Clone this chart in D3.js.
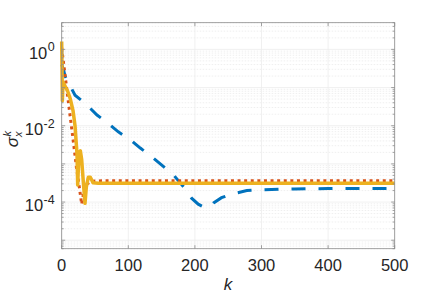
<!DOCTYPE html>
<html>
<head>
<meta charset="utf-8">
<script src="https://d3js.org/d3.v7.min.js"></script>
<style>
  body { margin: 0; background: #fff; }
  text { font-family: "Liberation Sans", Arial, sans-serif; fill: #262626; }
</style>
</head>
<body>
<div id="chart"></div>
<script>
// iterations k and sigma values
var blueK = [0, 3, 5, 20, 35, 53, 70, 85, 103, 118, 135, 153, 168, 183, 195, 205, 212, 222, 228, 240, 253, 278, 300, 350, 400, 500];
var blueV = [0.4, 0.28, 0.2, 0.063, 0.039, 0.019, 0.0115, 0.0069, 0.0043, 0.0026, 0.00155, 0.00085, 0.00051, 0.00025, 0.000126, 0.000088, 0.000076, 0.000075, 0.000095, 0.00013, 0.000158, 0.0002, 0.00021, 0.00022, 0.000225, 0.000225];

var redK = [0, 4, 8, 12, 17, 22, 27, 30, 33, 38, 45, 60, 500];
var redV = [1.1, 0.3, 0.08, 0.022, 0.0045, 0.00085, 0.00021, 0.000088, 0.00018, 0.0003, 0.00035, 0.00036, 0.00036];

var yelK = [0, 1, 2, 5, 9, 13, 17, 20, 22, 23, 24, 26, 28, 30, 33, 35, 37, 40, 43, 47, 55, 500];
var yelV = [1.6, 0.045, 0.14, 0.11, 0.08, 0.05, 0.025, 0.01, 0.0032, 0.0018, 0.00028, 0.002, 0.0022, 0.0013, 0.00025, 0.000093, 0.00025, 0.00045, 0.00045, 0.00032, 0.00031, 0.00031];

var xTicks = [0, 100, 200, 300, 400, 500];
var yLabelExps = [0, -2, -4];

var margin = {top: 22.7, right: 41.3, bottom: 49.3, left: 61.7},
    W = 436, H = 298,
    width = W - margin.left - margin.right,
    height = H - margin.top - margin.bottom;

var svg = d3.select("#chart").append("svg")
    .attr("width", W)
    .attr("height", H);

var g = svg.append("g")
    .attr("transform", "translate(" + margin.left + "," + margin.top + ")");

var x = d3.scaleLinear().domain([0, 500]).range([0, width]);
var y = d3.scaleLog().domain([6e-6, 5]).range([height, 0]);

// grid
var majors = [], minors = [];
for (var e = -6; e <= 0; e++) {
  for (var m = 1; m <= 9; m++) {
    var v = m * Math.pow(10, e);
    if (v < y.domain()[0] || v > y.domain()[1]) continue;
    if (m === 1) majors.push(v); else minors.push(v);
  }
}

g.selectAll(".ygridminor").data(minors).enter().append("line")
    .attr("x1", 0).attr("x2", width)
    .attr("y1", function(d) { return y(d); })
    .attr("y2", function(d) { return y(d); })
    .attr("stroke", "#e4e4e4").attr("stroke-width", 0.6)
    .attr("stroke-dasharray", "1.5,1.5");

g.selectAll(".ygrid").data(majors).enter().append("line")
    .attr("x1", 0).attr("x2", width)
    .attr("y1", function(d) { return y(d); })
    .attr("y2", function(d) { return y(d); })
    .attr("stroke", "#ececec").attr("stroke-width", 0.8);

g.selectAll(".xgrid").data(xTicks).enter().append("line")
    .attr("x1", function(d) { return x(d); })
    .attr("x2", function(d) { return x(d); })
    .attr("y1", 0).attr("y2", height)
    .attr("stroke", "#ececec").attr("stroke-width", 0.8);

// lines
var line = d3.line()
    .x(function(d) { return x(d[0]); })
    .y(function(d) { return y(d[1]); });

g.append("path")
    .datum(d3.zip(blueK, blueV))
    .attr("d", line)
    .attr("fill", "none")
    .attr("stroke", "#0072BD")
    .attr("stroke-width", 3)
    .attr("stroke-dasharray", "14,13");

g.append("path")
    .datum(d3.zip(redK, redV))
    .attr("d", line)
    .attr("fill", "none")
    .attr("stroke", "#D95319")
    .attr("stroke-width", 3)
    .attr("stroke-dasharray", "3,3.6");

g.append("path")
    .datum(d3.zip(yelK, yelV))
    .attr("d", line)
    .attr("fill", "none")
    .attr("stroke", "#EDB120")
    .attr("stroke-width", 3.5)
    .attr("stroke-linejoin", "round");

// box + ticks
var axisColor = "#8c8c8c";
g.append("rect")
    .attr("width", width).attr("height", height)
    .attr("fill", "none").attr("stroke", axisColor).attr("stroke-width", 0.8);

xTicks.forEach(function(t) {
  g.append("line").attr("x1", x(t)).attr("x2", x(t)).attr("y1", height).attr("y2", height - 3.5)
      .attr("stroke", axisColor).attr("stroke-width", 0.8);
  g.append("line").attr("x1", x(t)).attr("x2", x(t)).attr("y1", 0).attr("y2", 3.5)
      .attr("stroke", axisColor).attr("stroke-width", 0.8);
  g.append("text")
      .attr("x", x(t)).attr("y", height + 22.5)
      .attr("text-anchor", "middle")
      .attr("font-size", "16.5px")
      .text(t);
});

majors.concat(minors).forEach(function(v) {
  var len = majors.indexOf(v) >= 0 ? 3.5 : 2;
  g.append("line").attr("x1", 0).attr("x2", len).attr("y1", y(v)).attr("y2", y(v))
      .attr("stroke", axisColor).attr("stroke-width", 0.8);
  g.append("line").attr("x1", width).attr("x2", width - len).attr("y1", y(v)).attr("y2", y(v))
      .attr("stroke", axisColor).attr("stroke-width", 0.8);
});

yLabelExps.forEach(function(p) {
  var t = g.append("text")
      .attr("x", -7).attr("y", y(Math.pow(10, p)) + 9.3)
      .attr("text-anchor", "end")
      .attr("font-size", "16.5px");
  t.append("tspan").text("10");
  t.append("tspan").attr("dy", -7.5).attr("dx", 0.5).attr("font-size", "12.5px").text(p);
});

// axis labels
svg.append("text")
    .attr("x", 228).attr("y", 290)
    .attr("text-anchor", "middle")
    .attr("font-size", "17px")
    .attr("font-style", "italic")
    .attr("font-family", "'Liberation Serif', serif")
    .text("k");

var yl = svg.append("text")
    .attr("transform", "translate(18,139) rotate(-90)")
    .attr("text-anchor", "middle")
    .attr("font-size", "17px")
    .attr("font-style", "italic")
    .attr("font-family", "'Liberation Serif', serif");
yl.append("tspan").text("σ");
yl.append("tspan").attr("font-size", "11px").attr("dy", 4).text("x");
yl.append("tspan").attr("font-size", "11px").attr("dx", -5).attr("dy", -11).text("k");
</script>
</body>
</html>
